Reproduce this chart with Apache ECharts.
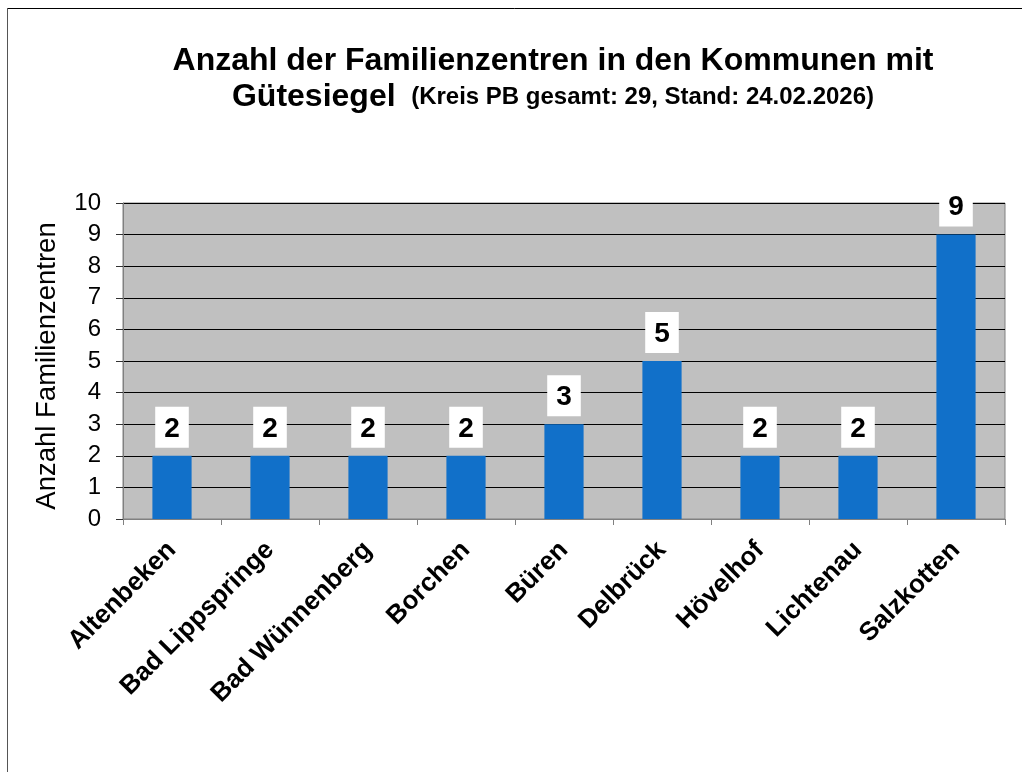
<!DOCTYPE html>
<html>
<head>
    <title>Familienzentren mit Gütesiegel</title>
    <meta charset="UTF-8">
    <script type="text/javascript" src="https://cdn.jsdelivr.net/npm/echarts@6/dist/echarts.min.js"></script>
    <style>
        html, body { margin: 0; padding: 0; background: #fff; }
        #main { width: 1022px; height: 772px; }
    </style>
</head>
<body>
<div id="main"></div>
<script type="text/javascript">
    // Kommunen und Anzahl Familienzentren
    var kommunen = ['Altenbeken', 'Bad Lippspringe', 'Bad Wünnenberg', 'Borchen', 'Büren',
        'Delbrück', 'Hövelhof', 'Lichtenau', 'Salzkotten'];
    var anzahl = [2, 2, 2, 2, 3, 5, 2, 2, 9];
    var yTicks = [0, 10, 1]; // min, max, interval

    var font = 'Liberation Sans, Arial, sans-serif';
    var myChart = echarts.init(document.getElementById('main'));
    myChart.setOption({
        backgroundColor: '#fff',
        textStyle: { fontFamily: font },
        title: {
            left: 548,
            textAlign: 'center',
            top: 38,
            text: '{a|Anzahl der Familienzentren in den Kommunen mit}\n{a|Gütesiegel }{b| (Kreis PB gesamt: 29, Stand: 24.02.2026)}',
            textStyle: {
                rich: {
                    a: { fontFamily: font, fontSize: 32, fontWeight: 'bold', color: '#000', lineHeight: 36 },
                    b: { fontFamily: font, fontSize: 24, fontWeight: 'bold', color: '#000', lineHeight: 36 }
                }
            }
        },
        graphic: [
            { type: 'line', shape: { x1: 7.5, y1: 8.5, x2: 1022, y2: 8.5 }, style: { stroke: '#000', lineWidth: 1 } },
            { type: 'line', shape: { x1: 7.5, y1: 8, x2: 7.5, y2: 772 }, style: { stroke: '#555', lineWidth: 1 } }
        ],
        grid: {
            left: 123, right: 17, top: 203, bottom: 253,
            show: true, backgroundColor: '#c0c0c0', borderColor: '#808080', borderWidth: 1
        },
        xAxis: {
            type: 'category',
            data: kommunen,
            axisLine: { lineStyle: { color: '#808080', width: 1 } },
            axisTick: { show: true, length: 6, lineStyle: { color: '#808080' } },
            axisLabel: {
                rotate: 45, margin: 27, fontSize: 26, fontWeight: 'bold', color: '#000',
                interval: 0, fontFamily: font
            }
        },
        yAxis: {
            type: 'value',
            min: yTicks[0], max: yTicks[1], interval: yTicks[2],
            name: 'Anzahl Familienzentren',
            nameLocation: 'middle',
            nameGap: 62,
            nameTextStyle: { fontSize: 27.5, color: '#000', fontFamily: font, padding: [0, 10, 0, 0] },
            axisLine: { show: true, lineStyle: { color: '#808080' } },
            axisTick: { show: true, length: 7, lineStyle: { color: '#333' } },
            axisLabel: { fontSize: 24, color: '#000', margin: 22, fontFamily: font },
            splitLine: { show: true, lineStyle: { color: '#000', width: 1 } }
        },
        series: [{
            name: 'Anzahl',
            type: 'bar',
            data: anzahl,
            barWidth: '40%',
            itemStyle: { color: '#1170c9' },
            label: {
                show: true, position: 'top', distance: 8,
                backgroundColor: '#fff', padding: [8, 9, 5, 9],
                fontSize: 28, fontWeight: 'bold', color: '#000', fontFamily: font
            }
        }]
    });
</script>
</body>
</html>
